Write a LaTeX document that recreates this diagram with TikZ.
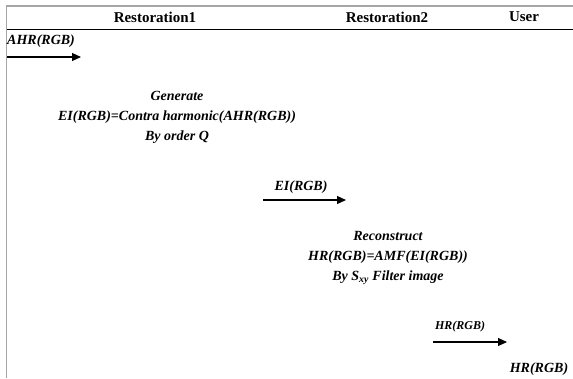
\documentclass[tikz,border=0pt]{standalone}
\usepackage{fontspec}
\setmainfont{Liberation Serif}
\usetikzlibrary{arrows.meta}
\begin{document}
\begin{tikzpicture}[x=1bp,y=-1bp,
  hdr/.style={font=\fontsize{15bp}{18bp}\selectfont\bfseries, inner sep=0pt},
  lbl/.style={font=\fontsize{14bp}{20bp}\selectfont\bfseries\itshape, inner sep=0pt, align=center},
  small/.style={font=\fontsize{12bp}{14bp}\selectfont\bfseries\itshape, inner sep=0pt},
  flow/.style={line width=1.1pt, -{Triangle[length=9pt,width=8pt]}},
  frame/.style={line width=1.2pt, draw=gray!70},
  rule/.style={line width=1pt, draw=black}]
\useasboundingbox (0,0) rectangle (573,378);
% frame
\coordinate (tl) at (6.5,6);
\coordinate (tr) at (573,6);
\coordinate (bl) at (6.5,378);
\coordinate (hl) at (6.5,29);
\coordinate (hr) at (573,29);
\draw[frame] (tr) -- (tl) -- (bl);
\draw[rule] (hl) -- (hr);
% headers
\node[hdr] (h1) at (155,17) {Restoration1};
\node[hdr] (h2) at (387,17) {Restoration2};
\node[hdr] (h3) at (524,17) {User};
% step 1
\node[lbl, anchor=west] (ahr) at (7,41) {AHR(RGB)};
\coordinate (a1s) at (7,57);
\coordinate (a1e) at (81,57);
\draw[flow] (a1s) -- (a1e);
\node[lbl] (gen) at (177,117) {Generate\\EI(RGB)=Contra harmonic(AHR(RGB))\\By order Q};
% step 2
\node[lbl] (ei) at (301,187) {EI(RGB)};
\coordinate (a2s) at (263,200);
\coordinate (a2e) at (346,200);
\draw[flow] (a2s) -- (a2e);
\node[lbl] (rec) at (388,258) {Reconstruct\\HR(RGB)=AMF(EI(RGB))\\By S\textsubscript{xy} Filter image};
% step 3
\node[small] (hrs) at (460,327) {HR(RGB)};
\coordinate (a3s) at (433,342);
\coordinate (a3e) at (507,342);
\draw[flow] (a3s) -- (a3e);
\node[lbl] (hrf) at (539,369) {HR(RGB)};
\end{tikzpicture}
\end{document}
